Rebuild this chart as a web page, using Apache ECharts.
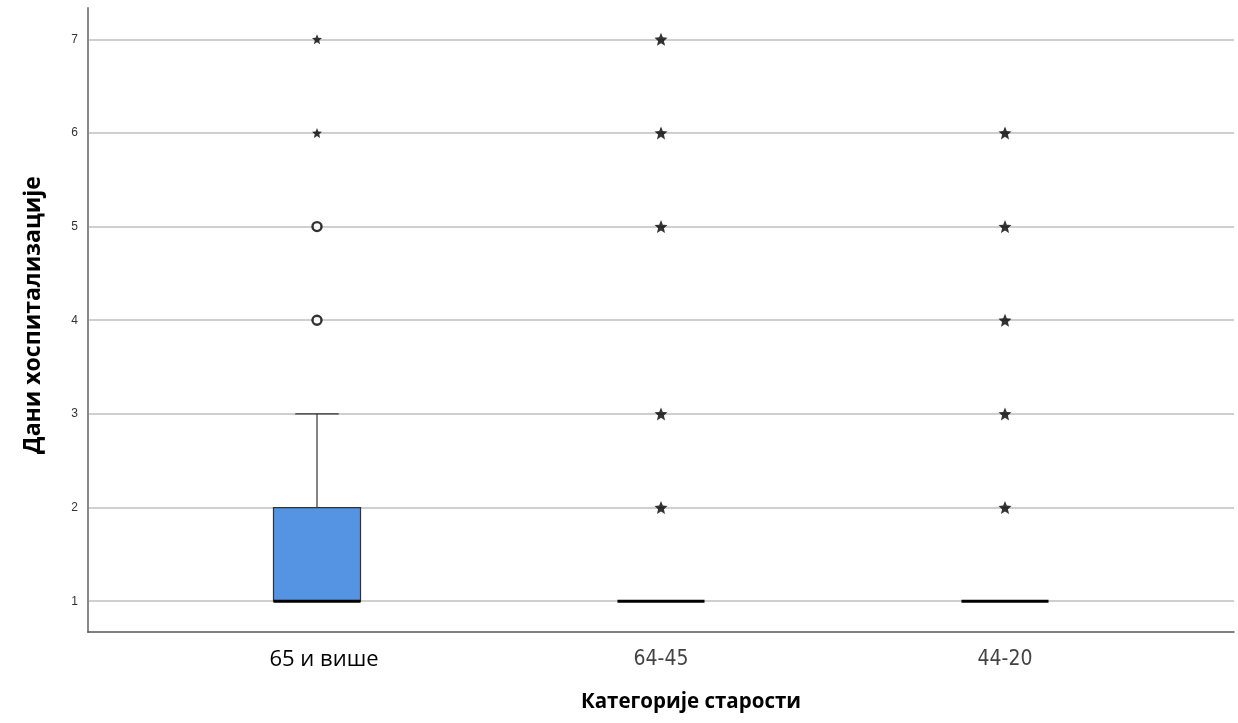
<!DOCTYPE html>
<html>
<head>
<meta charset="utf-8">
<script src="https://cdn.jsdelivr.net/npm/echarts@6/dist/echarts.min.js"></script>
<style>
  html, body { margin: 0; padding: 0; background: #fff; }
  #chart { width: 1238px; height: 723px; }
</style>
</head>
<body>
<div id="chart"></div>
<script>
// Age categories along the x axis
const categories = ['65 и више', '64-45', '44-20'];
// Box statistics per category: [min, Q1, median, Q3, max]
const boxStats = [
  [1, 1, 1, 2, 3],
  [1, 1, 1, 1, 1],
  [1, 1, 1, 1, 1]
];
// Outliers (circles) and extreme values (stars): [categoryIndex, days]
const outliers = [[0, 4], [0, 5]];
const extremesSmall = [[0, 6], [0, 7]];
const extremes = [
  [1, 2], [1, 3], [1, 5], [1, 6], [1, 7],
  [2, 2], [2, 3], [2, 4], [2, 5], [2, 6]
];
const yTicks = [1, 2, 3, 4, 5, 6, 7];

const starPath = 'path://M100 0 L126.45 63.6 L195.1 69.1 L142.8 113.9 L158.8 180.9 L100 145 L41.2 180.9 L57.2 113.9 L4.9 69.1 L73.55 63.6 Z';

const chart = echarts.init(document.getElementById('chart'), null, { renderer: 'canvas' });

const boxData = boxStats.map((s, i) => [i].concat(s));

chart.setOption({
  animation: false,
  backgroundColor: '#ffffff',
  grid: { left: 88, right: 4, top: 8, bottom: 91, containLabel: false },
  xAxis: {
    type: 'value',
    min: -0.6657,
    max: 2.6657,
    axisLine: { show: true, onZero: false, lineStyle: { color: '#555', width: 1.5 } },
    axisTick: { show: false },
    splitLine: { show: false },
    axisLabel: {
      customValues: [0, 1, 2],
      margin: 17,
      formatter: v => {
        const i = Math.round(v);
        return i === 0 ? '{a|' + categories[i] + '}' : '{b|' + categories[i] + '}';
      },
      rich: {
        a: { fontFamily: 'Open Sans', fontSize: 22, color: '#000', padding: [0, 0, 0, 14] },
        b: { fontFamily: '"Liberation Sans Narrow", "DejaVu Sans Condensed", "Liberation Sans", sans-serif', fontSize: 21, color: '#444' }
      }
    }
  },
  yAxis: {
    type: 'value',
    min: 0.671,
    max: 7.334,
    axisLine: { show: true, onZero: false, lineStyle: { color: '#888', width: 2 } },
    axisTick: { show: false, customValues: yTicks },
    axisLabel: {
      customValues: yTicks,
      margin: 10,
      fontFamily: 'Liberation Sans',
      fontSize: 12,
      color: '#333'
    },
    splitLine: { show: true, lineStyle: { color: '#cfcfcf', width: 2 } }
  },
  graphic: [
    {
      type: 'text',
      rotation: Math.PI / 2,
      x: 33, y: 315,
      style: {
        text: 'Дани хоспитализације',
        font: 'bold 23px "Open Sans"',
        fill: '#000',
        align: 'center',
        verticalAlign: 'middle'
      }
    },
    {
      type: 'text',
      x: 691, y: 702,
      style: {
        text: 'Категорије старости',
        font: 'bold 20.5px "Open Sans"',
        fill: '#000',
        align: 'center',
        verticalAlign: 'middle'
      }
    }
  ],
  series: [
    {
      type: 'custom',
      data: boxData,
      z: 3,
      renderItem: (params, api) => {
        const x = api.value(0);
        const lo = api.value(1), q1 = api.value(2), med = api.value(3), q3 = api.value(4), hi = api.value(5);
        const unit = api.size([1, 0])[0];
        const bw = unit * 0.253;
        const cw = bw / 2;
        const pQ1 = api.coord([x, q1]);
        const pQ3 = api.coord([x, q3]);
        const pMed = api.coord([x, med]);
        const pLo = api.coord([x, lo]);
        const pHi = api.coord([x, hi]);
        const cx = pQ1[0];
        const children = [];
        if (q3 > q1) {
          children.push({
            type: 'rect',
            shape: { x: cx - bw / 2, y: pQ3[1], width: bw, height: pQ1[1] - pQ3[1] },
            style: { fill: '#5594e2', stroke: '#333', lineWidth: 1.2 }
          });
        }
        if (hi > q3) {
          children.push({ type: 'line', shape: { x1: cx, y1: pQ3[1], x2: cx, y2: pHi[1] }, style: { stroke: '#333', lineWidth: 1.2 } });
          children.push({ type: 'line', shape: { x1: cx - cw / 2, y1: pHi[1], x2: cx + cw / 2, y2: pHi[1] }, style: { stroke: '#333', lineWidth: 1.2 } });
        }
        if (lo < q1) {
          children.push({ type: 'line', shape: { x1: cx, y1: pQ1[1], x2: cx, y2: pLo[1] }, style: { stroke: '#333', lineWidth: 1.2 } });
          children.push({ type: 'line', shape: { x1: cx - cw / 2, y1: pLo[1], x2: cx + cw / 2, y2: pLo[1] }, style: { stroke: '#333', lineWidth: 1.2 } });
        }
        children.push({
          type: 'line',
          shape: { x1: cx - bw / 2, y1: pMed[1], x2: cx + bw / 2, y2: pMed[1] },
          style: { stroke: '#000', lineWidth: 3 }
        });
        return { type: 'group', children };
      }
    },
    {
      type: 'scatter',
      data: outliers,
      symbol: 'circle',
      symbolSize: 9,
      z: 4,
      itemStyle: { color: '#fff', borderColor: '#000', borderWidth: 2.4 }
    },
    {
      type: 'scatter',
      data: extremesSmall,
      symbol: starPath,
      symbolSize: 10,
      z: 4,
      itemStyle: { color: '#000' }
    },
    {
      type: 'scatter',
      data: extremes,
      symbol: starPath,
      symbolSize: 13,
      z: 4,
      itemStyle: { color: '#000' }
    }
  ]
});
</script>
</body>
</html>
